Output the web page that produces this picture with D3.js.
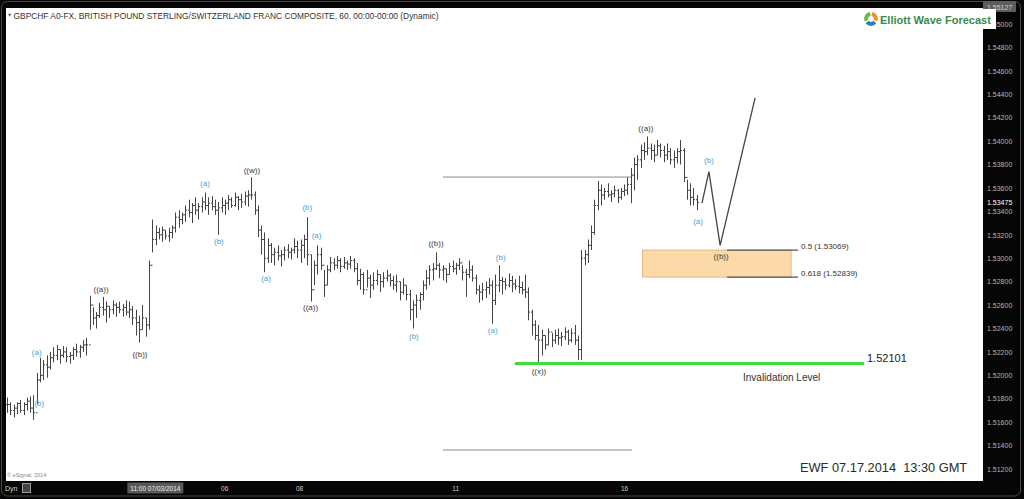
<!DOCTYPE html>
<html>
<head>
<meta charset="utf-8">
<script src="https://cdn.jsdelivr.net/npm/d3@7"></script>
<style>
  html, body { margin: 0; padding: 0; background: #050505; }
  svg { display: block; }
  text { font-family: "Liberation Sans", Arial, sans-serif; }
</style>
</head>
<body>
<svg id="chart" width="1024" height="499"></svg>
<script>
// ---------------- DATA ----------------
const title = "* GBPCHF A0-FX, BRITISH POUND STERLING/SWITZERLAND FRANC COMPOSITE, 60, 00:00-00:00 (Dynamic)";

// hourly OHLC bars (bar index 0..209)
const high = [
1.5181,1.5177,1.5175,1.5177,1.5179,1.5177,1.5181,1.5182,1.5183,1.5202,
1.5215,1.5213,1.5217,1.5220,1.5224,1.5226,1.5222,1.5225,1.5224,1.5220,
1.5224,1.5227,1.5226,1.5230,1.5232,1.5268,1.5258,1.5254,1.5262,1.5267,
1.5263,1.5259,1.5264,1.5262,1.5263,1.5261,1.5264,1.5263,1.5259,1.5256,
1.5251,1.5260,1.5249,1.5298,1.5333,1.5328,1.5326,1.5327,1.5324,1.5326,
1.5328,1.5339,1.5341,1.5339,1.5345,1.5350,1.5347,1.5352,1.5347,1.5352,
1.5356,1.5352,1.5353,1.5350,1.5348,1.5352,1.5350,1.5354,1.5352,1.5356,
1.5353,1.5355,1.5357,1.5358,1.5369,1.5357,1.5345,1.5328,1.5322,1.5317,
1.5313,1.5309,1.5311,1.5307,1.5310,1.5312,1.5309,1.5317,1.5315,1.5316,
1.5320,1.5335,1.5303,1.5298,1.5311,1.5309,1.5290,1.5294,1.5301,1.5300,
1.5302,1.5300,1.5301,1.5298,1.5302,1.5300,1.5296,1.5291,1.5288,1.5290,
1.5286,1.5288,1.5290,1.5286,1.5288,1.5290,1.5287,1.5285,1.5286,1.5280,
1.5283,1.5277,1.5273,1.5264,1.5269,1.5271,1.5281,1.5290,1.5294,1.5296,
1.5305,1.5296,1.5294,1.5291,1.5296,1.5298,1.5296,1.5300,1.5294,1.5291,
1.5298,1.5294,1.5286,1.5277,1.5279,1.5280,1.5283,1.5281,1.5286,1.5294,
1.5284,1.5283,1.5287,1.5285,1.5282,1.5285,1.5280,1.5286,1.5275,1.5256,
1.5247,1.5243,1.5239,1.5234,1.5240,1.5236,1.5239,1.5240,1.5237,1.5241,
1.5239,1.5240,1.5243,1.5234,1.5307,1.5307,1.5316,1.5328,1.5350,1.5366,
1.5363,1.5360,1.5364,1.5358,1.5362,1.5359,1.5360,1.5363,1.5369,1.5377,
1.5386,1.5388,1.5397,1.5399,1.5404,1.5398,1.5397,1.5401,1.5398,1.5396,
1.5398,1.5394,1.5392,1.5394,1.5401,1.5394,1.5367,1.5364,1.5360,1.5354
];
const low = [
1.5168,1.5166,1.5164,1.5167,1.5168,1.5166,1.5170,1.5168,1.5162,1.5175,
1.5194,1.5196,1.5198,1.5205,1.5211,1.5213,1.5210,1.5215,1.5211,1.5210,
1.5213,1.5216,1.5215,1.5220,1.5217,1.5239,1.5243,1.5240,1.5249,1.5251,
1.5245,1.5249,1.5252,1.5250,1.5253,1.5250,1.5251,1.5249,1.5243,1.5234,
1.5228,1.5239,1.5233,1.5239,1.5305,1.5311,1.5316,1.5314,1.5316,1.5314,
1.5317,1.5322,1.5326,1.5329,1.5331,1.5335,1.5330,1.5337,1.5333,1.5339,
1.5341,1.5337,1.5341,1.5337,1.5320,1.5339,1.5337,1.5341,1.5343,1.5344,
1.5341,1.5343,1.5345,1.5344,1.5350,1.5337,1.5318,1.5303,1.5288,1.5296,
1.5296,1.5294,1.5298,1.5293,1.5298,1.5300,1.5299,1.5304,1.5300,1.5296,
1.5300,1.5294,1.5263,1.5277,1.5286,1.5290,1.5267,1.5277,1.5288,1.5290,
1.5291,1.5288,1.5291,1.5290,1.5291,1.5288,1.5277,1.5273,1.5269,1.5275,
1.5266,1.5273,1.5277,1.5271,1.5275,1.5280,1.5276,1.5273,1.5271,1.5264,
1.5269,1.5264,1.5247,1.5240,1.5249,1.5256,1.5264,1.5273,1.5277,1.5281,
1.5290,1.5283,1.5281,1.5279,1.5286,1.5288,1.5286,1.5290,1.5281,1.5267,
1.5283,1.5280,1.5269,1.5262,1.5264,1.5266,1.5269,1.5244,1.5260,1.5271,
1.5269,1.5273,1.5275,1.5271,1.5273,1.5270,1.5269,1.5266,1.5247,1.5234,
1.5230,1.5211,1.5217,1.5222,1.5226,1.5224,1.5227,1.5226,1.5225,1.5230,
1.5226,1.5228,1.5226,1.5213,1.5213,1.5294,1.5296,1.5307,1.5320,1.5341,
1.5345,1.5350,1.5352,1.5348,1.5352,1.5347,1.5350,1.5353,1.5354,1.5347,
1.5358,1.5367,1.5377,1.5384,1.5388,1.5384,1.5382,1.5388,1.5386,1.5382,
1.5384,1.5380,1.5377,1.5381,1.5380,1.5365,1.5350,1.5345,1.5345,1.5341
];
const close = [
1.5175,1.5170,1.5172,1.5176,1.5170,1.5175,1.5178,1.5172,1.5168,1.5196,
1.5200,1.5209,1.5207,1.5215,1.5217,1.5222,1.5217,1.5220,1.5216,1.5217,
1.5222,1.5220,1.5224,1.5226,1.5226,1.5260,1.5249,1.5251,1.5258,1.5256,
1.5259,1.5256,1.5260,1.5258,1.5256,1.5258,1.5254,1.5256,1.5249,1.5245,
1.5239,1.5249,1.5243,1.5294,1.5316,1.5322,1.5320,1.5324,1.5319,1.5322,
1.5326,1.5335,1.5333,1.5337,1.5341,1.5339,1.5345,1.5341,1.5344,1.5348,
1.5345,1.5347,1.5344,1.5341,1.5343,1.5345,1.5347,1.5350,1.5345,1.5352,
1.5350,1.5348,1.5353,1.5354,1.5354,1.5341,1.5324,1.5316,1.5300,1.5311,
1.5303,1.5305,1.5302,1.5303,1.5307,1.5305,1.5307,1.5310,1.5307,1.5311,
1.5316,1.5303,1.5273,1.5294,1.5303,1.5294,1.5277,1.5290,1.5296,1.5294,
1.5298,1.5293,1.5296,1.5295,1.5298,1.5291,1.5281,1.5286,1.5273,1.5283,
1.5277,1.5281,1.5286,1.5280,1.5283,1.5285,1.5281,1.5277,1.5280,1.5271,
1.5277,1.5269,1.5256,1.5260,1.5264,1.5269,1.5277,1.5283,1.5290,1.5291,
1.5294,1.5290,1.5291,1.5286,1.5293,1.5291,1.5294,1.5296,1.5288,1.5286,
1.5290,1.5283,1.5273,1.5271,1.5273,1.5275,1.5277,1.5264,1.5277,1.5281,
1.5280,1.5277,1.5281,1.5278,1.5276,1.5275,1.5273,1.5271,1.5254,1.5243,
1.5234,1.5230,1.5234,1.5226,1.5237,1.5230,1.5234,1.5232,1.5233,1.5237,
1.5230,1.5236,1.5230,1.5222,1.5300,1.5303,1.5311,1.5322,1.5345,1.5358,
1.5354,1.5357,1.5354,1.5355,1.5358,1.5352,1.5357,1.5358,1.5363,1.5371,
1.5380,1.5384,1.5392,1.5391,1.5394,1.5392,1.5388,1.5396,1.5392,1.5388,
1.5391,1.5384,1.5386,1.5391,1.5392,1.5369,1.5358,1.5352,1.5350,1.53475
];

// Elliott wave labels (bar index, price)
const waveText  = ["(a)","(b)","((a))","((b))","(a)","(b)","((w))","(a)","(b)","(a)","((a))","(b)","((b))","(a)","(b)","((x))","((a))","(a)","(b)","((b))"];
const waveIdx   = [9.0, 9.8, 28.5, 40.3, 60.0, 64.2, 74.2, 78.5, 91.0, 93.8, 92.0, 123.3, 130.0, 147.2, 149.6, 161.2, 193.6, 209.4, 212.7, 216.4];
const wavePrice = [1.5220,1.5176,1.5274,1.5218,1.5364,1.5315,1.5375,1.5283,1.5344,1.5320,1.5258,1.5234,1.5313,1.5239,1.5301,1.5204,1.5411,1.5332,1.5384,1.5302];

// projected path (bar index, price)
const projIdx   = [210.6, 212.7, 216.1, 226.7];
const projPrice = [1.5347, 1.5374, 1.5311, 1.5437];

// fibonacci zone
const fibLevels = [1.53069, 1.52839];
const fibLabels = ["0.5 (1.53069)", "0.618 (1.52839)"];
const fibBoxIdx = [192.6, 237.6];
const fibLineIdx = [218.2, 239.7];

// invalidation
const invalidation = 1.52101;
const invalidationIdx = [153.9, 259.7];

// gray reference lines
const refLevels = [1.53693, 1.51362];
const refIdx = [132.1, 189.4];

// axes
const yTicks = [1.512,1.514,1.516,1.518,1.520,1.522,1.524,1.526,1.528,1.530,1.532,1.534,1.536,1.538,1.540,1.542,1.544,1.546,1.548,1.550];
const topPrice = 1.55127;
const lastPrice = 1.53475;
const xTickIdx = [44.8, 65.8, 88.5, 135.8, 187.0];
const xTickLabels = ["11:00 07/03/2014", "06", "08", "11", "16"];

// ---------------- DRAW ----------------
const svg = d3.select("#chart");
const W = 1024, H = 499;
const plot = {x0: 6, y0: 8, x1: 983, y1: 481};

const xS = d3.scaleLinear().domain([0, 209]).range([7, 696.7]);
const yS = d3.scaleLinear().domain([1.512, 1.55]).range([469, 24]);

// frame
svg.append("rect").attr("width", W).attr("height", H).attr("fill", "#060606");
svg.append("rect").attr("x", 1.5).attr("y", 1.5).attr("width", 1019).attr("height", 494.5)
  .attr("rx", 6).attr("fill", "none").attr("stroke", "#4a4a4a").attr("stroke-width", 1);
svg.append("rect").attr("x", plot.x0).attr("y", plot.y0)
  .attr("width", plot.x1 - plot.x0).attr("height", plot.y1 - plot.y0).attr("fill", "#ffffff");

// title
svg.append("text").attr("x", 8).attr("y", 19).attr("font-size", 8.4).attr("fill", "#333")
  .text(title);

// gray reference lines
const gRef = svg.append("g");
refLevels.forEach(v => {
  gRef.append("line").attr("x1", xS(refIdx[0])).attr("x2", xS(refIdx[1]))
    .attr("y1", yS(v)).attr("y2", yS(v)).attr("stroke", "#8a8a8a").attr("stroke-width", 1);
});

// fib zone
svg.append("rect").attr("x", xS(fibBoxIdx[0])).attr("y", yS(fibLevels[0]))
  .attr("width", xS(fibBoxIdx[1]) - xS(fibBoxIdx[0]))
  .attr("height", yS(fibLevels[1]) - yS(fibLevels[0]))
  .attr("fill", "#fbd9a9").attr("stroke", "#e8b77a").attr("stroke-width", 1);
fibLevels.forEach((v, k) => {
  svg.append("line").attr("x1", xS(fibLineIdx[0])).attr("x2", xS(fibLineIdx[1]))
    .attr("y1", yS(v)).attr("y2", yS(v)).attr("stroke", "#555").attr("stroke-width", 1.3);
  svg.append("text").attr("x", xS(fibLineIdx[1]) + 3).attr("y", yS(v) - 1.5)
    .attr("font-size", 8).attr("font-family", "'Liberation Serif', 'Times New Roman', serif")
    .attr("fill", "#333").text(fibLabels[k]);
});

// bars
const gBars = svg.append("g").attr("stroke", "#444").attr("stroke-width", 1);
high.forEach((h, i) => {
  const x = Math.round(xS(i)) + 0.5;
  const open = i > 0 ? close[i - 1] : close[0];
  gBars.append("line").attr("x1", x).attr("x2", x).attr("y1", yS(h)).attr("y2", yS(low[i]));
  gBars.append("line").attr("x1", x - 1.5).attr("x2", x).attr("y1", yS(open)).attr("y2", yS(open));
  gBars.append("line").attr("x1", x).attr("x2", x + 1.5).attr("y1", yS(close[i])).attr("y2", yS(close[i]));
});

// projection
const proj = projIdx.map((d, k) => [xS(d), yS(projPrice[k])]);
svg.append("path").attr("d", d3.line()(proj)).attr("fill", "none")
  .attr("stroke", "#444").attr("stroke-width", 1.3);

// invalidation line
svg.append("line").attr("x1", xS(invalidationIdx[0])).attr("x2", xS(invalidationIdx[1]))
  .attr("y1", yS(invalidation)).attr("y2", yS(invalidation))
  .attr("stroke", "#3fdc3f").attr("stroke-width", 3);
svg.append("text").attr("x", xS(invalidationIdx[1]) + 3).attr("y", yS(invalidation) - 1)
  .attr("font-size", 11).attr("font-family", "'Liberation Serif', 'Times New Roman', serif")
  .attr("fill", "#222").text(d3.format(".5f")(invalidation));
svg.append("text").attr("x", 743).attr("y", 381).attr("font-size", 10).attr("fill", "#333")
  .text("Invalidation Level");

// wave labels
waveText.forEach((t, k) => {
  svg.append("text").attr("x", xS(waveIdx[k])).attr("y", yS(wavePrice[k]) + 3)
    .attr("text-anchor", "middle").attr("font-size", 8)
    .attr("fill", t.startsWith("((") ? "#3a3a3a" : "#4a9fd6").text(t);
});

// EWF stamp
svg.append("text").attr("x", 800).attr("y", 472).attr("font-size", 12.8).attr("fill", "#2a2a2a")
  .style("white-space", "pre").text("EWF 07.17.2014  13:30 GMT");

// copyright
svg.append("text").attr("x", 7).attr("y", 477).attr("font-size", 5.5).attr("fill", "#888")
  .text("© eSignal, 2014");

// right axis
const yAxis = d3.axisRight(yS).tickValues(yTicks).tickFormat(d3.format(".5f")).tickSize(0).tickPadding(4);
const gy = svg.append("g").attr("transform", `translate(${plot.x1},0)`).call(yAxis);
gy.select(".domain").remove();
gy.selectAll("text").attr("font-size", 7).attr("fill", "#b5b5b5")
  .attr("font-family", "'Liberation Sans', Arial, sans-serif");

// current price label
svg.append("text").attr("x", plot.x1 + 4).attr("y", yS(lastPrice)).attr("dy", "0.32em")
  .attr("font-size", 7).attr("fill", "#ffffff").text(d3.format(".5f")(lastPrice));
// top price box
svg.append("rect").attr("x", plot.x1).attr("y", 1).attr("width", 33).attr("height", 11).attr("fill", "#5c5c5c");
svg.append("text").attr("x", plot.x1 + 4).attr("y", 9.5).attr("font-size", 7).attr("fill", "#d0d0d0")
  .text(d3.format(".5f")(topPrice));

// bottom axis
const xAxis = d3.axisBottom(xS).tickValues(xTickIdx).tickFormat((d, i) => xTickLabels[i]).tickSize(0).tickPadding(5);
const gx = svg.append("g").attr("transform", `translate(0,${plot.y1})`).call(xAxis);
gx.select(".domain").remove();
gx.selectAll("text").attr("font-size", 6.5).attr("fill", "#cfcfcf")
  .attr("font-family", "'Liberation Sans', Arial, sans-serif");
gx.selectAll(".tick").filter((d, i) => i === 0).insert("rect", "text")
  .attr("x", -28).attr("y", 1.5).attr("width", 56).attr("height", 11).attr("fill", "#5a5a5a");
gx.selectAll(".tick").filter((d, i) => i === 0).select("text").attr("fill", "#eeeeee");

svg.append("text").attr("x", 5).attr("y", 491).attr("font-size", 7).attr("fill", "#cfcfcf").text("Dyn");
svg.append("rect").attr("x", 22.5).attr("y", 483.5).attr("width", 8).attr("height", 9)
  .attr("fill", "#444").attr("stroke", "#999").attr("stroke-width", 1);

// logo
const gLogo = svg.append("g");
gLogo.append("rect").attr("x", 862).attr("y", 9).attr("width", 134).attr("height", 20).attr("fill", "#ffffff");
const arc = d3.arc().innerRadius(3).outerRadius(7);
const logoColors = ["#f0922b", "#2b7fc3", "#67b94a"];
logoColors.forEach((c, k) => {
  gLogo.append("path").attr("transform", "translate(871,19)")
    .attr("d", arc({startAngle: k * 2 * Math.PI / 3 + 0.15, endAngle: (k + 1) * 2 * Math.PI / 3 - 0.15}))
    .attr("fill", c);
});
gLogo.append("text").attr("x", 880).attr("y", 23.5).attr("font-size", 11).attr("font-weight", "bold")
  .attr("fill", "#3a8a4a").text("Elliott Wave Forecast");
</script>
